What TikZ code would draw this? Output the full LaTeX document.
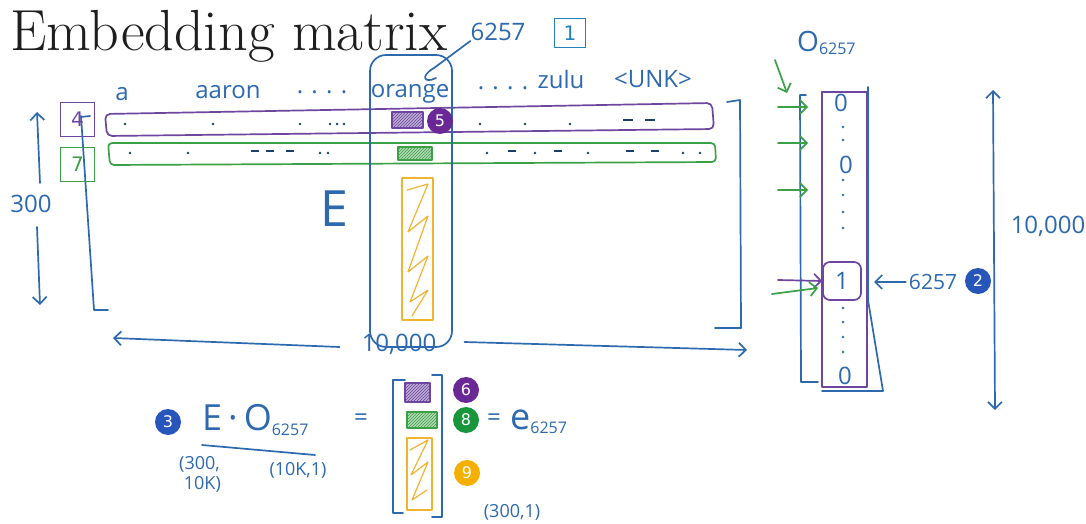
\documentclass[tikz,border=0pt]{standalone}
\usepackage{fontspec}
\newfontfamily\hand{Open Sans}
\newfontfamily\badgefont{DejaVu Sans}
\usetikzlibrary{patterns,arrows.meta,calc}
\definecolor{penblue}{RGB}{45,105,175}
\definecolor{penpurple}{RGB}{110,70,160}
\definecolor{pengreen}{RGB}{60,160,70}
\definecolor{penorange}{RGB}{240,180,50}
\definecolor{badgeblue}{RGB}{40,85,185}
\definecolor{badgepurple}{RGB}{105,40,150}
\definecolor{badgegreen}{RGB}{25,150,60}
\definecolor{badgeorange}{RGB}{245,175,0}
\definecolor{titlegray}{RGB}{30,30,30}
\tikzset{
  pen/.style={line width=1.7pt, line cap=round, line join=round},
  bluepen/.style={pen, draw=penblue},
  purplepen/.style={pen, draw=penpurple},
  greenpen/.style={pen, draw=pengreen},
  orangepen/.style={pen, draw=penorange},
  txt/.style={font=\hand\fontsize{24}{24}\selectfont, text=penblue, inner sep=0pt},
  smalltxt/.style={font=\hand\fontsize{18}{20}\selectfont, text=penblue, inner sep=0pt},
  badge/.style={circle, fill=#1, text=white, font=\badgefont\fontsize{16}{16}\selectfont, minimum size=26pt, inner sep=0pt},
  numbox/.style={draw=#1, line width=1.8pt, text=#1, minimum width=34pt, minimum height=34pt, font=\badgefont\fontsize{20}{20}\selectfont, inner sep=0pt},
  arr/.style={-{Straight Barb[length=7pt,width=14pt]}},
  dblarr/.style={{Straight Barb[length=7pt,width=14pt]}-{Straight Barb[length=7pt,width=14pt]}},
}
\begin{document}
\begin{tikzpicture}[x=1pt,y=-1pt]
\useasboundingbox (0,0) rectangle (1086,524);
\fill[white] (0,0) rectangle (1086,524);

% title
\node[anchor=base west, inner sep=0pt, text=titlegray, font=\fontsize{58}{58}\selectfont] (title) at (10,51) {Embedding matrix};

% ---- matrix E ----
% rows
\draw[purplepen, rounded corners=5pt] (105,114) -- (712,103) -- (714,129) -- (107,136) -- cycle;
\draw[greenpen, rounded corners=4pt] (108,143) -- (715,143) -- (716,162) -- (110,165) -- cycle;
% row dots
\foreach \x in {125,213,300,330,337,344,480,525,570} \fill[penblue!60!black] (\x,124) circle (1.4pt);
\foreach \x in {628,650} \draw[penblue!60!black, line width=1.2pt] (\x-5,120) -- (\x+5,120);
\foreach \x in {130,188,320,328,487,535,588,683,700} \fill[penblue!60!black] (\x,153) circle (1.4pt);
\foreach \x in {255,270,290,512,558,630,655} \draw[penblue!60!black, line width=1.2pt] (\x-4,151) -- (\x+4,151);

% column words
\node[txt] (wa) at (122,94) {a};
\node[txt] (waaron) at (228,92) {aaron};
\node[txt] (wdotsa) at (322,92) {. . . .};
\node[txt] (worange) at (410,94) {orange};
\node[txt] (wdotsb) at (503,88) {. . . .};
\node[txt] (wzulu) at (561,80) {zulu};
\node[txt] (wunk) at (653,79) {<UNK>};

% orange column outline
\node[bluepen, draw, rounded corners=16pt, minimum width=82pt, minimum height=292pt, inner sep=0pt] (col) at (411,201) {};
\node[txt] (w6257) at (498,32) {6257};
\node[numbox=penblue!85!cyan, minimum width=31pt, minimum height=29pt] (b1) at (570,33) {1};
\coordinate (curl) at (434,68);
\draw[bluepen] (w6257.south west) -- (curl) .. controls (420,76) and (424,84) .. (436,78);

% entries inside column
\fill[penpurple!45] (392,112) rectangle (423,128);
\fill[pattern=north east lines, pattern color=penpurple] (392,112) rectangle (423,128);
\draw[purplepen, line width=1.2pt] (392,112) rectangle (423,128);
\node[badge=badgepurple] (c5) at (440,121) {5};
\fill[pengreen!40] (398,147) rectangle (432,160);
\fill[pattern=north east lines, pattern color=pengreen] (398,147) rectangle (432,160);
\draw[greenpen, line width=1.2pt] (398,147) rectangle (432,160);
\node[orangepen, draw, minimum width=31pt, minimum height=142pt, inner sep=0pt] (orect) at (417.5,249) {};
\draw[orangepen, line width=1.2pt] (407,190) -- (428,184) -- (408,232) -- (428,216) -- (408,272) -- (428,256) -- (410,302) -- (428,290) -- (412,316);

% E label
\node[txt, font=\hand\fontsize{50}{50}\selectfont] (bigE) at (334,209) {E};

% brackets of E
\coordinate (lbt) at (81,116);
\coordinate (lbb) at (94,310);
\draw[bluepen] (lbt) -- (lbb) -- (108,310);
\draw[bluepen] (81,117) -- (90,116);
\draw[bluepen] (727,102) -- (740,100) -- (741,328) -- (715,328);

% boxes 4 and 7
\node[numbox=penpurple] (b4) at (77.5,119.5) {4};
\node[numbox=pengreen] (b7) at (77.5,164.5) {7};

% 300 dimension
\node[txt] (w300) at (31,204) {300};
\coordinate (up300) at (37,112);
\coordinate (dn300) at (40,305);
\draw[bluepen, arr] ($(w300.north)+(9,-12)$) -- (up300);
\draw[bluepen, arr] ($(w300.south)+(6,14)$) -- (dn300);

% 10,000 horizontal
\node[txt] (w10k) at (399,344) {10,000};
\coordinate (hl) at (113,338);
\coordinate (hr) at (747,350);
\draw[bluepen, arr] ($(w10k.west)+(-22,3)$) -- (hl);
\draw[bluepen, arr] ($(w10k.east)+(28,-2)$) -- (hr);

% ---- one-hot vector ----
\node[txt, anchor=west] (olabel) at (797,43) {{\fontsize{28}{28}\selectfont O}\raisebox{-3pt}{\fontsize{16}{16}\selectfont 6257}};
\coordinate (gds) at (775,60);
\coordinate (gde) at (787,93);
\draw[greenpen, arr] (gds) -- (gde);
\draw[bluepen] (806,95) -- (800,95) -- (801,382) -- (818,382);
\node[purplepen, draw, minimum width=45pt, minimum height=295pt, inner sep=0pt] (ovec) at (844.5,239.5) {};
\draw[bluepen] (868,87) -- (868,300) -- (883,391) -- (822,391);
\node[purplepen, draw, rounded corners=7pt, minimum size=38pt, txt] (one) at (842,281) {1};
\node[txt] (z1) at (841,103) {0};
\node[txt] (z2) at (846,165) {0};
\node[txt] (z3) at (845,376) {0};
\foreach \y in {127,140,180,195,212,228,308,322,337,352} \fill[penblue] (843,\y) circle (1.3pt);
\foreach \y in {107,143,190} {
  \coordinate (gs\y) at (778,\y);
  \coordinate (ge\y) at (808,\y);
  \draw[greenpen, arr] (gs\y) -- (ge\y);
}
\coordinate (pas) at (778,280);
\draw[purplepen, arr] (pas) -- (one.west);
\coordinate (gas) at (772,294);
\coordinate (gae) at (818,288);
\draw[greenpen, arr] (gas) -- (gae);
\node[txt, font=\hand\fontsize{21}{21}\selectfont] (r6257) at (933,282) {6257};
\coordinate (oneR) at (874,282);
\draw[bluepen, arr] ($(r6257.west)+(-3,0)$) -- (oneR);
\node[badge=badgeblue] (c2) at (978,281) {2};

% vertical 10,000
\coordinate (vt) at (993,90);
\coordinate (vb) at (995,410);
\draw[bluepen, dblarr] (vt) -- (vb);
\node[txt] (v10k) at (1048,226) {10,000};

% ---- equation ----
\node[badge=badgeblue] (c3) at (168,422) {3};
\node[txt, anchor=west] (lhs) at (202,420) {{\fontsize{36}{36}\selectfont E\,·\,O}\raisebox{-5pt}{\fontsize{16}{16}\selectfont 6257}};
\draw[bluepen] (202,445) -- (315,455);
\node[smalltxt, align=left] (dimE) at (200,474) {(300,\\ \ 10K)};
\node[smalltxt] (dimO) at (298,470) {(10K,1)};
\node[txt] (eq1) at (361,420) {=};
% result vector
\draw[bluepen] (405,380) -- (393,380) -- (393,513) -- (403,513);
\draw[bluepen] (432,375) -- (442,375) -- (442,517) -- (432,517);
\fill[penpurple!45] (405,383) rectangle (430,402);
\fill[pattern=north east lines, pattern color=penpurple] (405,383) rectangle (430,402);
\draw[purplepen, line width=1.2pt] (405,383) rectangle (430,402);
\fill[pengreen!40] (407,412) rectangle (437,428);
\fill[pattern=north east lines, pattern color=pengreen] (407,412) rectangle (437,428);
\draw[greenpen, line width=1.2pt] (407,412) rectangle (437,428);
\node[orangepen, draw, minimum width=25pt, minimum height=72pt, inner sep=0pt] (orect2) at (419.5,474) {};
\draw[orangepen, line width=1.2pt] (410,450) -- (428,440) -- (411,475) -- (428,462) -- (412,500) -- (427,490);
\node[badge=badgepurple] (c6) at (466,390) {6};
\node[badge=badgegreen] (c8) at (466,420) {8};
\node[badge=badgeorange] (c9) at (467,473) {9};
\node[txt] (eq2) at (494,420) {=};
\node[txt, anchor=west] (e6257) at (510,422) {{\fontsize{36}{36}\selectfont e}\raisebox{-4pt}{\fontsize{16}{16}\selectfont 6257}};
\node[smalltxt] (dimR) at (512,512) {(300,1)};
\end{tikzpicture}
\end{document}
